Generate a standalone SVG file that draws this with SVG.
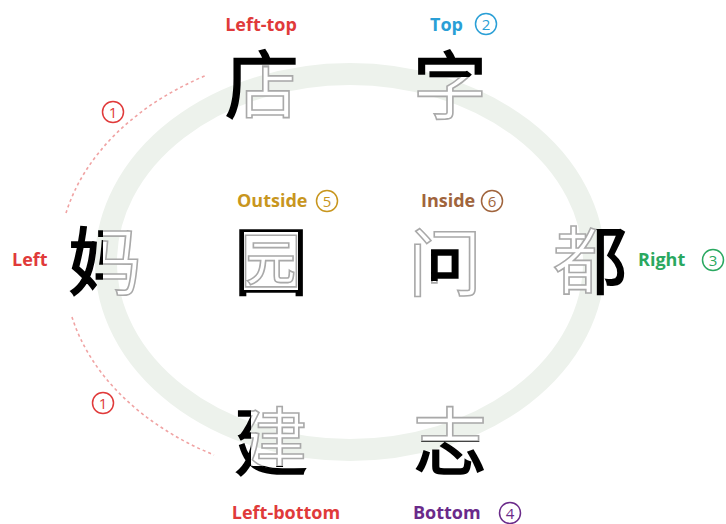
<svg xmlns="http://www.w3.org/2000/svg" xmlns:xlink="http://www.w3.org/1999/xlink" width="726" height="524" viewBox="0 0 726 524">
<style>
.lbl{font-family:"Open Sans","Liberation Sans",sans-serif;font-weight:700;font-size:18px}
.num{font-family:"Open Sans","Liberation Sans",sans-serif;font-weight:400;font-size:15px;text-anchor:middle}
.ring{fill:none;stroke-width:1.5}
.ch{font-family:"Noto Sans CJK SC","Noto Sans CJK JP",sans-serif;font-size:74px;text-anchor:middle}
.out{fill:#fff;stroke:#a9a9a9;stroke-width:1.6}
.solid{fill:#000;stroke:#000;stroke-width:1.6}
.arc{fill:none;stroke:#f0a3a3;stroke-width:1.6;stroke-dasharray:3 3}
</style>
<defs>
<text id="t-dian" class="ch" x="262" y="112">店</text>
<text id="t-zi" class="ch" x="450" y="113">字</text>
<text id="t-ma" class="ch" x="105" y="289">妈</text>
<text id="t-du" class="ch" x="590" y="288">都</text>
<text id="t-yuan" class="ch" x="271" y="289">园</text>
<text id="t-wen" class="ch" x="445" y="290">问</text>
<text id="t-jian" class="ch" x="271" y="469">建</text>
<text id="t-zhi" class="ch" x="450" y="469">志</text>
<clipPath id="c-dian-b"><path d="M215 35 H310 V66 H242 V125 H215 Z"/></clipPath>
<clipPath id="c-dian-o"><rect x="242" y="66" width="68" height="60"/></clipPath>
<clipPath id="c-zi-b"><rect x="405" y="35" width="90" height="42"/></clipPath>
<clipPath id="c-zi-o"><rect x="405" y="77" width="90" height="50"/></clipPath>
<clipPath id="c-ma-b"><rect x="60" y="215" width="43" height="90"/></clipPath>
<clipPath id="c-ma-o"><rect x="103" y="215" width="45" height="90"/></clipPath>
<clipPath id="c-du-b"><rect x="596" y="215" width="40" height="90"/></clipPath>
<clipPath id="c-du-o"><rect x="545" y="215" width="51" height="90"/></clipPath>
<clipPath id="c-yuan-b"><path clip-rule="evenodd" d="M225 215 H320 V310 H225 Z M244 232 V290 H298 V232 Z"/></clipPath>
<clipPath id="c-yuan-o"><rect x="244" y="232" width="54" height="58"/></clipPath>
<clipPath id="c-wen-b"><rect x="429" y="244" width="38" height="37"/></clipPath>
<clipPath id="c-wen-o"><path clip-rule="evenodd" d="M400 215 H495 V310 H400 Z M429 244 V281 H467 V244 Z"/></clipPath>
<clipPath id="c-jian-b"><path clip-rule="evenodd" d="M225 395 H320 V490 H225 Z M251 400 V466 H306 V400 Z"/></clipPath>
<clipPath id="c-jian-o"><rect x="251" y="400" width="55" height="66"/></clipPath>
<clipPath id="c-zhi-b"><rect x="400" y="441" width="100" height="45"/></clipPath>
<clipPath id="c-zhi-o"><rect x="400" y="395" width="100" height="46"/></clipPath>
</defs>
<rect width="726" height="524" fill="#fff"/>
<ellipse cx="350" cy="262" rx="244" ry="188" fill="none" stroke="#edf2ec" stroke-width="22"/>
<g id="connectors">
<path class="arc" d="M66 213 A293 213 0 0 1 207 75"/>
<path class="arc" d="M72 317 A293 213 0 0 0 214 455"/>
<g fill="#e03a3a"><circle class="ring" stroke="#e03a3a" cx="113" cy="112" r="10.5"/><text class="num" x="113" y="117.5">1</text>
<circle class="ring" stroke="#e03a3a" cx="103" cy="403" r="10.5"/><text class="num" x="103" y="408.5">1</text></g>
</g>
<g id="left-top">
<text class="lbl" x="261" y="31" fill="#e03a3a" text-anchor="middle">Left-top</text>
<use xlink:href="#t-dian" href="#t-dian" class="out" clip-path="url(#c-dian-o)"/>
<use xlink:href="#t-dian" href="#t-dian" class="solid" clip-path="url(#c-dian-b)"/>
</g>
<g id="top">
<text class="lbl" x="430" y="31" fill="#2a9fd6">Top</text>
<circle class="ring" stroke="#2a9fd6" cx="486" cy="24" r="10.5"/><text class="num" x="486" y="29.5" fill="#2a9fd6">2</text>
<use xlink:href="#t-zi" href="#t-zi" class="out" clip-path="url(#c-zi-o)"/>
<use xlink:href="#t-zi" href="#t-zi" class="solid" clip-path="url(#c-zi-b)"/>
</g>
<g id="left">
<text class="lbl" x="12" y="266" fill="#e03a3a">Left</text>
<use xlink:href="#t-ma" href="#t-ma" class="out" clip-path="url(#c-ma-o)"/>
<use xlink:href="#t-ma" href="#t-ma" class="solid" clip-path="url(#c-ma-b)"/>
</g>
<g id="right">
<text class="lbl" x="638" y="266" fill="#2aa860">Right</text>
<circle class="ring" stroke="#2aa860" cx="713" cy="260" r="10.5"/><text class="num" x="713" y="265.5" fill="#2aa860">3</text>
<use xlink:href="#t-du" href="#t-du" class="out" clip-path="url(#c-du-o)"/>
<use xlink:href="#t-du" href="#t-du" class="solid" clip-path="url(#c-du-b)"/>
</g>
<g id="outside">
<text class="lbl" x="237" y="207" fill="#c8961e">Outside</text>
<circle class="ring" stroke="#c8961e" cx="327" cy="201" r="10.5"/><text class="num" x="327" y="206.5" fill="#c8961e">5</text>
<use xlink:href="#t-yuan" href="#t-yuan" class="out" clip-path="url(#c-yuan-o)"/>
<use xlink:href="#t-yuan" href="#t-yuan" class="solid" clip-path="url(#c-yuan-b)"/>
</g>
<g id="inside">
<text class="lbl" x="421" y="207" fill="#a0643c">Inside</text>
<circle class="ring" stroke="#a0643c" cx="492" cy="201" r="10.5"/><text class="num" x="492" y="206.5" fill="#a0643c">6</text>
<use xlink:href="#t-wen" href="#t-wen" class="out" clip-path="url(#c-wen-o)"/>
<use xlink:href="#t-wen" href="#t-wen" class="solid" clip-path="url(#c-wen-b)"/>
</g>
<g id="left-bottom">
<text class="lbl" x="286" y="519" fill="#e03a3a" text-anchor="middle">Left-bottom</text>
<use xlink:href="#t-jian" href="#t-jian" class="out" clip-path="url(#c-jian-o)"/>
<use xlink:href="#t-jian" href="#t-jian" class="solid" clip-path="url(#c-jian-b)"/>
</g>
<g id="bottom">
<text class="lbl" x="413" y="519" fill="#6a2a8a">Bottom</text>
<circle class="ring" stroke="#6a2a8a" cx="510" cy="513" r="10.5"/><text class="num" x="510" y="518.5" fill="#6a2a8a">4</text>
<use xlink:href="#t-zhi" href="#t-zhi" class="out" clip-path="url(#c-zhi-o)"/>
<use xlink:href="#t-zhi" href="#t-zhi" class="solid" clip-path="url(#c-zhi-b)"/>
</g>
</svg>
